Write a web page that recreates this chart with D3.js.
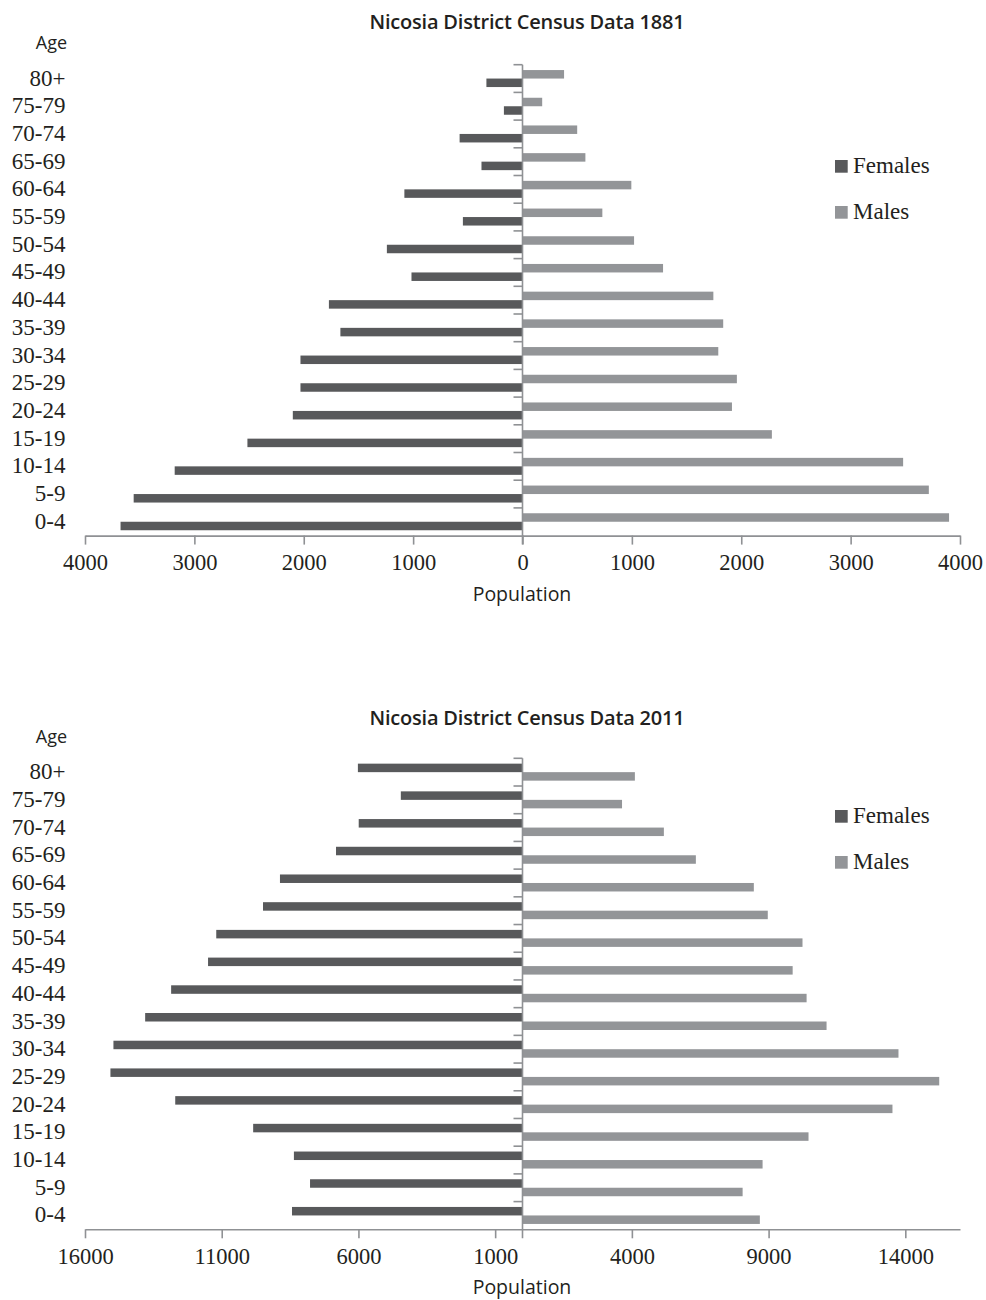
<!DOCTYPE html>
<html>
<head>
<meta charset="utf-8">
<script src="https://cdn.jsdelivr.net/npm/d3@7"></script>
<style>
  html, body { margin: 0; padding: 0; background: #ffffff; }
  svg { display: block; }
</style>
</head>
<body>
<svg id="chart" width="986" height="1300"></svg>
<script>
// ---------------- DATA ----------------
const ageGroups = ["80+","75-79","70-74","65-69","60-64","55-59","50-54","45-49","40-44","35-39","30-34","25-29","20-24","15-19","10-14","5-9","0-4"];

const females1881 = [330,170,575,375,1080,545,1240,1015,1770,1665,2030,2030,2100,2515,3180,3555,3675];
const males1881   = [380,180,500,575,995,730,1020,1285,1745,1835,1790,1960,1915,2280,3480,3715,3900];

const females2011 = [6020,4450,5990,6820,8870,9490,11200,11500,12850,13800,14960,15070,12700,9850,8360,7770,8430];
const males2011   = [4110,3640,5170,6340,8460,8970,10240,9880,10390,11120,13750,15240,13530,10460,8780,8050,8680];

const ticks1881 = [-4000,-3000,-2000,-1000,0,1000,2000,3000,4000];
const ticks2011 = [-16000,-11000,-6000,-1000,4000,9000,14000];

const titles = ["Nicosia District Census Data 1881", "Nicosia District Census Data 2011"];
const seriesNames = ["Females", "Males"];

// ---------------- STYLE ----------------
const COL_F = "#58595b";
const COL_M = "#939598";
const COL_AXIS = "#8f9194";
const COL_TEXT = "#231f20";
const SERIF = "'Liberation Serif', 'DejaVu Serif', serif";
const SANS = "'Open Sans', 'Noto Sans', sans-serif";

const svg = d3.select("#chart");

function drawChart(cfg) {
  const g = svg.append("g");
  const x = d3.scaleLinear().domain(cfg.domain).range([85, 960]);
  const y = d3.scaleBand().domain(ageGroups).range([cfg.top, cfg.bottom]).paddingInner(0).paddingOuter(0);
  const inner = d3.scaleBand().domain(cfg.order).range([0, y.bandwidth()]).paddingInner(0).paddingOuter(0.63);

  // title
  g.append("text").attr("x", 527).attr("y", cfg.titleY)
    .attr("text-anchor", "middle").attr("font-family", SANS).attr("font-weight", 600)
    .attr("font-size", 20).attr("letter-spacing", -0.2).attr("fill", COL_TEXT).text(cfg.title);

  // Age label
  g.append("text").attr("x", 51.5).attr("y", cfg.top - 15.5)
    .attr("text-anchor", "middle").attr("font-family", SANS)
    .attr("font-size", 18).attr("fill", COL_TEXT).text("Age");

  // bars
  const rows = ageGroups.map((a, i) => ({age: a, Females: cfg.females[i], Males: cfg.males[i]}));
  g.append("g").selectAll("rect.f").data(rows).join("rect")
    .attr("x", d => x(-d.Females)).attr("width", d => x(0) - x(-d.Females))
    .attr("y", d => y(d.age) + inner("Females")).attr("height", inner.bandwidth())
    .attr("fill", COL_F);
  g.append("g").selectAll("rect.m").data(rows).join("rect")
    .attr("x", x(0)).attr("width", d => x(d.Males) - x(0))
    .attr("y", d => y(d.age) + inner("Males")).attr("height", inner.bandwidth())
    .attr("fill", COL_M);

  // x axis
  const xAxis = d3.axisBottom(x).tickValues(cfg.ticks).tickSize(9).tickSizeOuter(0)
    .tickFormat(v => String(Math.abs(v)));
  const xa = g.append("g").attr("transform", `translate(0,${cfg.bottom})`).call(xAxis);
  xa.select(".domain").attr("stroke", COL_AXIS).attr("stroke-width", 1.6);
  xa.selectAll(".tick line").attr("stroke", COL_AXIS).attr("stroke-width", 1.6);
  xa.selectAll(".tick text").attr("font-family", SERIF).attr("font-size", 22.5)
    .attr("fill", COL_TEXT).attr("dy", "0").attr("y", 34.5);

  // vertical centre axis with boundary ticks
  const va = g.append("g");
  va.append("line").attr("x1", x(0)).attr("x2", x(0)).attr("y1", cfg.top).attr("y2", cfg.bottom + 9)
    .attr("stroke", COL_AXIS).attr("stroke-width", 1.6);
  const bounds = ageGroups.map(a => y(a));
  va.selectAll("line.b").data(bounds).join("line")
    .attr("x1", x(0) - 9).attr("x2", x(0)).attr("y1", d => d).attr("y2", d => d)
    .attr("stroke", COL_AXIS).attr("stroke-width", 1.6);

  // category labels
  g.append("g").selectAll("text").data(ageGroups).join("text")
    .attr("x", 65.5).attr("y", d => y(d) + y.bandwidth() / 2 + 7)
    .attr("text-anchor", "end").attr("font-family", SERIF).attr("font-size", 23)
    .attr("fill", COL_TEXT).text(d => d);

  // x axis title
  g.append("text").attr("x", 522).attr("y", cfg.bottom + 65)
    .attr("text-anchor", "middle").attr("font-family", SANS)
    .attr("font-size", 19.5).attr("fill", COL_TEXT).text("Population");

  // legend
  const lg = g.append("g");
  const legendColors = {Females: COL_F, Males: COL_M};
  seriesNames.forEach((s, i) => {
    const ly = cfg.legendY + i * 46;
    lg.append("rect").attr("x", 835).attr("y", ly - 13).attr("width", 12.7).attr("height", 12.7)
      .attr("fill", legendColors[s]);
    lg.append("text").attr("x", 853).attr("y", ly).attr("font-family", SERIF).attr("font-size", 23)
      .attr("fill", COL_TEXT).text(s);
  });
}

drawChart({
  title: titles[0], titleY: 29, top: 64.7, bottom: 535.6,
  domain: [-4000, 4000], ticks: ticks1881,
  females: females1881, males: males1881,
  order: ["Males", "Females"], legendY: 173
});

drawChart({
  title: titles[1], titleY: 725, top: 758.3, bottom: 1229.3,
  domain: [-16000, 16000], ticks: ticks2011,
  females: females2011, males: males2011,
  order: ["Females", "Males"], legendY: 823
});
</script>
</body>
</html>
